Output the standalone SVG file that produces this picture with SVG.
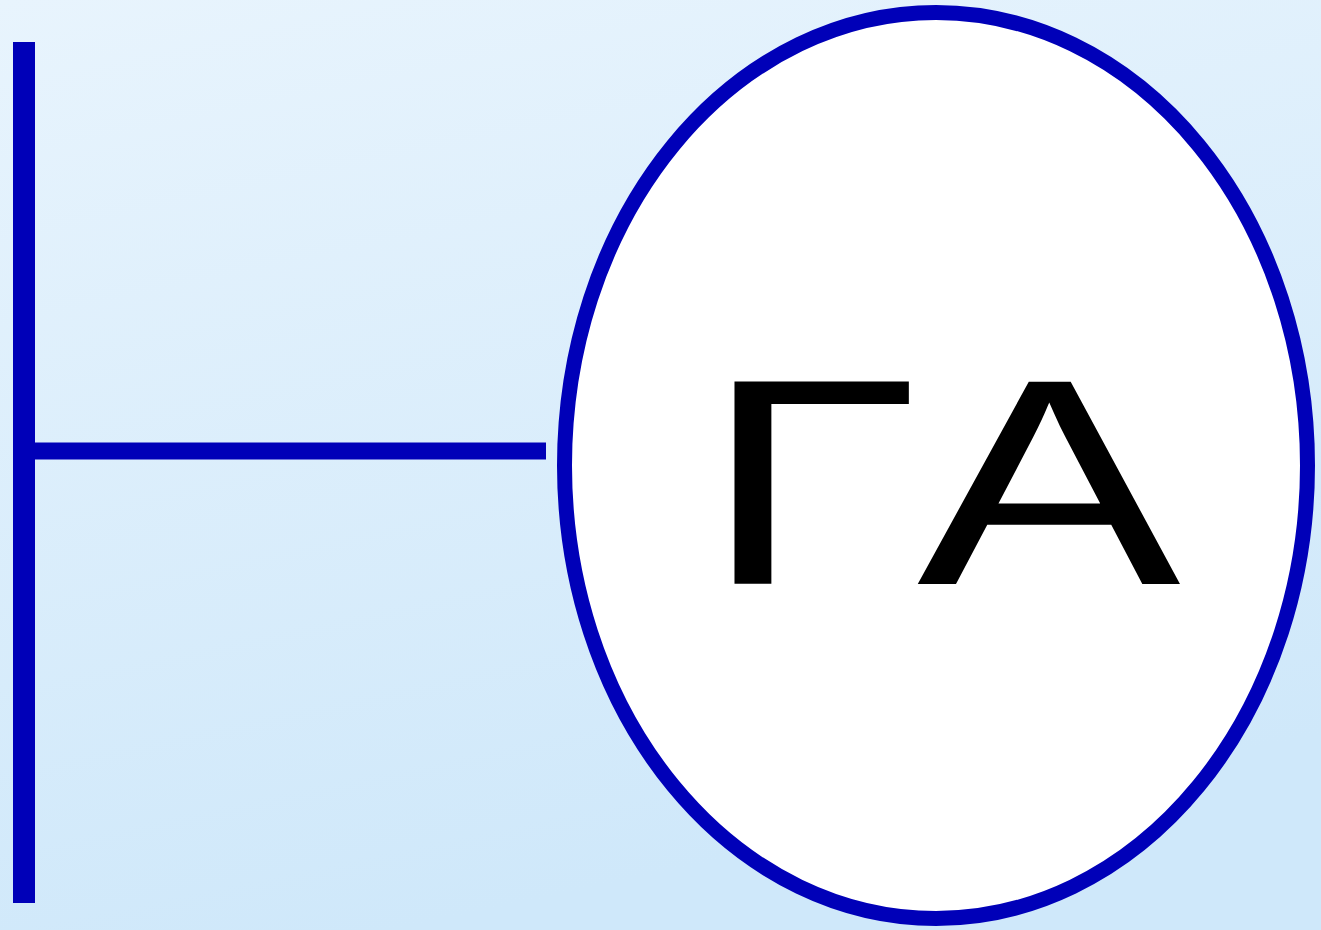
<svg xmlns="http://www.w3.org/2000/svg" width="1321" height="930" viewBox="0 0 1321 930">
<defs>
<linearGradient id="bg" x1="0" y1="0" x2="0.3" y2="1">
<stop offset="0" stop-color="#e8f4fd"/>
<stop offset="1" stop-color="#cfe8fa"/>
</linearGradient>
<style>
.wire{stroke:#0000b8;fill:none;}
.lbl{font-family:"Liberation Sans",Arial,sans-serif;font-size:294px;fill:#000;}
</style>
</defs>
<rect x="0" y="0" width="1321" height="930" fill="url(#bg)"/>
<g id="connectors">
<line class="wire" x1="24" y1="42" x2="24" y2="903" stroke-width="22"/>
<line class="wire" x1="24" y1="451" x2="546" y2="451" stroke-width="17"/>
</g>
<g id="node-ga">
<ellipse cx="936" cy="465.5" rx="371.5" ry="453" fill="#ffffff" stroke="#0000b8" stroke-width="15"/>
<text class="lbl" transform="translate(735,584) scale(1.345,1)" x="-24.5" y="0">Г</text>
<text class="lbl" transform="translate(917,584) scale(1.345,1)" x="0" y="0">А</text>
</g>
</svg>
